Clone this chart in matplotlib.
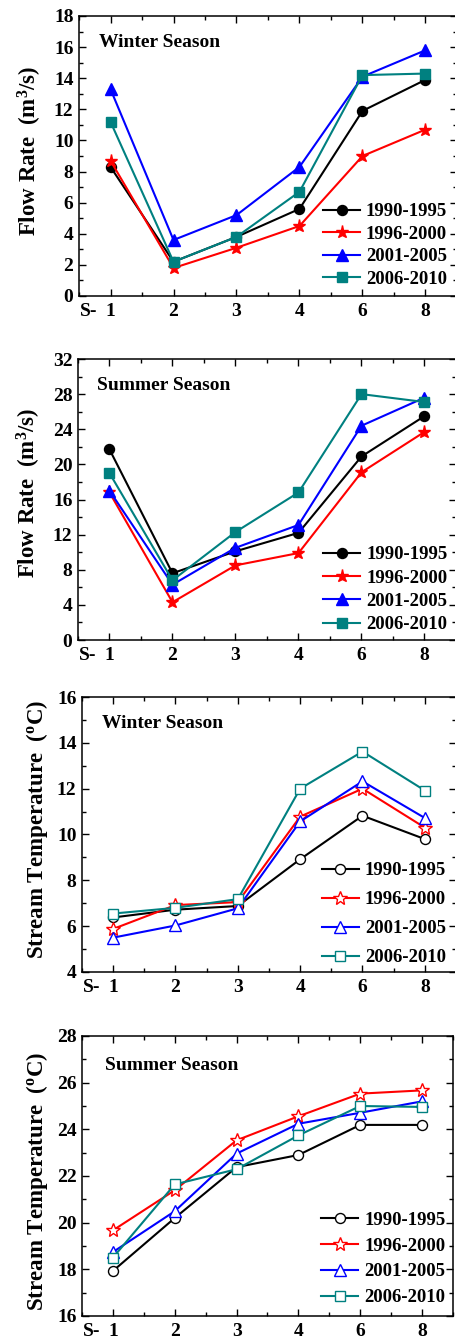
import matplotlib
matplotlib.use("Agg")
import matplotlib.pyplot as plt
from matplotlib.ticker import MultipleLocator, AutoMinorLocator
from matplotlib.transforms import offset_copy

plt.rcParams['font.family'] = ['Liberation Serif', 'DejaVu Serif']
plt.rcParams['font.weight'] = 'bold'
plt.rcParams['mathtext.fontset'] = 'custom'
plt.rcParams['mathtext.rm'] = 'Liberation Serif:bold'
plt.rcParams['mathtext.bf'] = 'Liberation Serif:bold'
plt.rcParams['mathtext.it'] = 'Liberation Serif:bold'

sites = ['1', '2', '3', '4', '6', '8']
periods = ['1990-1995', '1996-2000', '2001-2005', '2006-2010']

flow_winter = {
    '1990-1995': [8.3, 2.2, 3.8, 5.6, 11.9, 13.9],
    '1996-2000': [8.7, 1.8, 3.1, 4.5, 9.0, 10.7],
    '2001-2005': [13.3, 3.6, 5.2, 8.3, 14.1, 15.8],
    '2006-2010': [11.2, 2.2, 3.8, 6.7, 14.2, 14.3],
}
flow_summer = {
    '1990-1995': [21.7, 7.6, 10.1, 12.2, 20.9, 25.5],
    '1996-2000': [16.8, 4.3, 8.5, 9.9, 19.1, 23.7],
    '2001-2005': [17.0, 6.3, 10.5, 13.1, 24.4, 27.6],
    '2006-2010': [19.0, 6.8, 12.3, 16.8, 28.0, 27.1],
}
temp_winter = {
    '1990-1995': [6.38, 6.72, 6.88, 8.92, 10.82, 9.8],
    '1996-2000': [5.88, 6.92, 7.05, 10.78, 12.0, 10.3],
    '2001-2005': [5.5, 6.03, 6.78, 10.57, 12.32, 10.72],
    '2006-2010': [6.55, 6.8, 7.18, 12.0, 13.62, 11.92],
}
temp_summer = {
    '1990-1995': [17.93, 20.2, 22.38, 22.9, 24.19, 24.19],
    '1996-2000': [19.67, 21.39, 23.53, 24.56, 25.53, 25.67],
    '2001-2005': [18.74, 20.49, 22.96, 24.24, 24.71, 25.2],
    '2006-2010': [18.5, 21.64, 22.29, 23.74, 25.0, 24.96],
}

colors = {'1990-1995': 'black', '1996-2000': '#ff0000',
          '2001-2005': '#0000ff', '2006-2010': '#008080'}
markers = {'1990-1995': 'o', '1996-2000': '*', '2001-2005': '^', '2006-2010': 's'}
ms_filled = {'1990-1995': 7.2, '1996-2000': 9.5, '2001-2005': 8.5, '2006-2010': 6.5}
ms_open = {'1990-1995': 7.2, '1996-2000': 10, '2001-2005': 8.5, '2006-2010': 6.5}

W, H = 456, 1339
fig = plt.figure(figsize=(W / 100, H / 100), dpi=100)


def px_axes(left, right, top, bottom):
    return fig.add_axes([left / W, 1 - bottom / H, (right - left) / W, (bottom - top) / H])


panels = [
    dict(box=(79, 457, 16, 296), data=flow_winter, filled=True, ylim=(0, 18), step=2,
         title='Winter Season', tpos=(0.053, 0.905),
         ylabel='Flow Rate  (m$^{3}$/s)', lpos=(-0.13, 0.52),
         leg=(0.645, 0.332), lsp=0.29),
    dict(box=(78, 456, 359, 640), data=flow_summer, filled=True, ylim=(0, 32), step=4,
         title='Summer Season', tpos=(0.05, 0.907),
         ylabel='Flow Rate  (m$^{3}$/s)', lpos=(-0.13, 0.525),
         leg=(0.648, 0.334), lsp=0.33),
    dict(box=(82, 456, 697, 972), data=temp_winter, filled=False, ylim=(4, 16), step=2,
         title='Winter Season', tpos=(0.053, 0.905),
         ylabel='Stream Temperature  ($^{o}$C)', lpos=(-0.12, 0.52),
         leg=(0.641, 0.40), lsp=0.64),
    dict(box=(82, 453, 1036, 1316), data=temp_summer, filled=False, ylim=(16, 28), step=2,
         title='Summer Season', tpos=(0.062, 0.893),
         ylabel='Stream Temperature  ($^{o}$C)', lpos=(-0.122, 0.48),
         leg=(0.644, 0.372), lsp=0.46),
]

XPAD = 5
for p in panels:
    ax = px_axes(*p['box'])
    for per in periods:
        kw = dict(color=colors[per], marker=markers[per], lw=1.5, label=per)
        if p['filled']:
            kw.update(markersize=ms_filled[per], markerfacecolor=colors[per],
                      markeredgecolor=colors[per])
        else:
            kw.update(markersize=ms_open[per], markerfacecolor='white',
                      markeredgecolor=colors[per], markeredgewidth=1.0)
        ax.plot(sites, p['data'][per], **kw)
    ax.set_xlim(-0.5, 5.5)
    ax.set_ylim(*p['ylim'])
    ax.yaxis.set_major_locator(MultipleLocator(p['step']))
    ax.yaxis.set_minor_locator(AutoMinorLocator(2))
    ax.xaxis.set_minor_locator(MultipleLocator(0.5))
    ax.tick_params(which='both', direction='in', top=True, right=True, labelsize=14)
    ax.tick_params(which='major', length=5, width=1)
    ax.tick_params(which='minor', length=3, width=1)
    ax.tick_params(axis='x', pad=XPAD)
    ax.tick_params(axis='y', pad=4)
    for s in ax.spines.values():
        s.set_linewidth(1.1)
    ax.set_ylabel(p['ylabel'], fontsize=16.5, fontweight='bold')
    ax.yaxis.label.set_va('center')
    ax.yaxis.set_label_coords(*p['lpos'])
    ax.text(p['tpos'][0], p['tpos'][1], p['title'], transform=ax.transAxes,
            fontsize=14, fontweight='bold', ha='left', va='center')
    tr = offset_copy(ax.transAxes, fig=fig, x=1.0, y=-XPAD, units='points')
    ax.text(0.0, 0.0, 'S-', transform=tr, fontsize=14,
            fontweight='bold', ha='left', va='top')
    ax.legend(loc='upper left', bbox_to_anchor=p['leg'], frameon=False,
              fontsize=13.5, handlelength=2.0, handletextpad=0.3,
              labelspacing=p['lsp'], borderpad=0, borderaxespad=0, numpoints=1)

fig.savefig('out.png', dpi=100)
